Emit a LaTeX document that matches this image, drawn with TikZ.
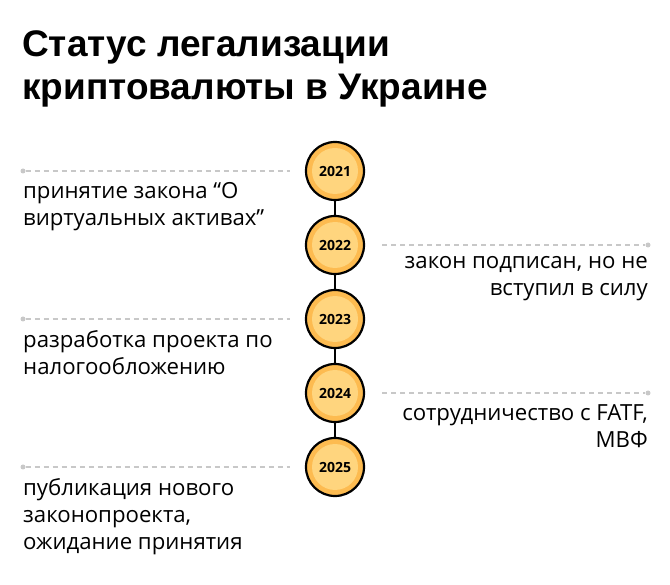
\documentclass[tikz,border=0pt]{standalone}
\usepackage{fontspec}
\setmainfont{Open Sans}
\newfontfamily\titlefont{Liberation Sans}
\definecolor{outerc}{HTML}{FDBB50}
\definecolor{innerc}{HTML}{FFD57E}
\definecolor{dashc}{HTML}{C8C8C8}
\begin{document}
\begin{tikzpicture}[x=1pt,y=-1pt,
  yr/.style={circle,draw=black,line width=2.2pt,fill=outerc,minimum size=58pt,inner sep=0pt,
    path picture={\fill[innerc] (path picture bounding box.center) circle (23pt);}},
  yl/.style={font=\bfseries\fontsize{14}{14}\selectfont},
  guide/.style={dashc,dashed,dash pattern=on 5pt off 4pt,line width=1.2pt},
  endp/.style={circle,fill=dashc,inner sep=0pt,minimum size=5pt},
  txt/.style={font=\fontsize{22.2}{27}\selectfont,inner sep=0pt,text=black}]
\useasboundingbox (0,0) rectangle (670,585);
\node[anchor=north west,inner sep=0pt,font=\titlefont\bfseries\fontsize{37}{43}\selectfont,align=left] (title) at (22,30)
  {Статус легализации\\криптовалюты в Украине};
\foreach \i/\yy in {1/171,2/245,3/319,4/393,5/467}{\coordinate (c\i) at (335,\yy);}
\draw[line width=2.2pt] (c1) -- (c5);
\foreach \i/\yr in {1/2021,2/2022,3/2023,4/2024,5/2025}{\node[yr] (n\i) at (c\i) {}; \node[yl] (l\i) at (c\i) {\yr};}
\foreach \i in {1,3,5}{\node[endp] (e\i) at (23,0 |- c\i) {}; \coordinate (g\i) at (290,0 |- c\i); \draw[guide] (e\i) -- (g\i);}
\foreach \i in {2,4}{\node[endp] (e\i) at (648,0 |- c\i) {}; \coordinate (g\i) at (382,0 |- c\i); \draw[guide] (g\i) -- (e\i);}
\node[txt,anchor=north west,align=left] (t1) at (23,182) {принятие закона “О\\виртуальных активах”};
\node[txt,anchor=north east,align=right] (t2) at (648,256) {закон подписан, но не\\вступил в силу};
\node[txt,anchor=north west,align=left] (t3) at (23,330) {разработка проекта по\\налогообложению};
\node[txt,anchor=north east,align=right] (t4) at (648,404) {сотрудничество с FATF,\\МВФ};
\node[txt,anchor=north west,align=left] (t5) at (23,478) {публикация нового\\законопроекта,\\ожидание принятия};
\end{tikzpicture}
\end{document}
